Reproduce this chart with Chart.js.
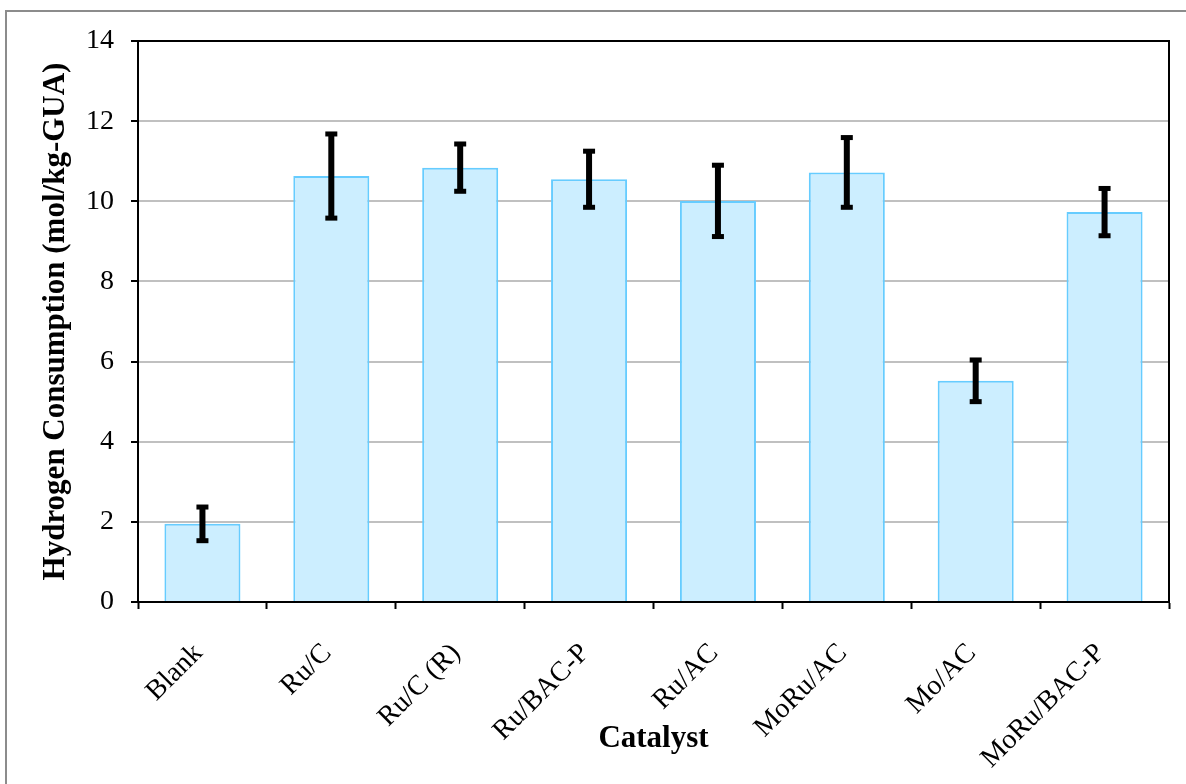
<!DOCTYPE html>
<html>
<head>
<meta charset="utf-8">
<script src="https://cdn.jsdelivr.net/npm/chart.js@4.4.1/dist/chart.umd.min.js"></script>
<style>
  html, body { margin: 0; padding: 0; background: #ffffff; }
  #wrap { width: 1186px; height: 784px; }
</style>
</head>
<body>
<div id="wrap"><canvas id="chart" width="1186" height="784"></canvas></div>
<script>
// Catalyst categories and measured hydrogen consumption (mol/kg-GUA)
const catalysts = ['Blank', 'Ru/C', 'Ru/C (R)', 'Ru/BAC-P', 'Ru/AC', 'MoRu/AC', 'Mo/AC', 'MoRu/BAC-P'];
const consumption = [1.95, 10.63, 10.84, 10.55, 10.01, 10.72, 5.52, 9.73];
// Symmetric error (± one standard deviation)
const errorMargin = [0.42, 1.05, 0.59, 0.70, 0.89, 0.87, 0.52, 0.59];
// Y-axis tick values
const yTicks = [0, 2, 4, 6, 8, 10, 12, 14];

const SERIF = "'Liberation Serif', 'Times New Roman', serif";

// Gray outer frame, black plot box, and error bars
const decor = {
  id: 'decor',
  beforeDraw(chart) {
    const ctx = chart.ctx;
    ctx.save();
    ctx.strokeStyle = '#8c8c8c';
    ctx.lineWidth = 2;
    ctx.beginPath();
    ctx.moveTo(6, 784);
    ctx.lineTo(6, 11);
    ctx.lineTo(1186, 11);
    ctx.stroke();
    ctx.restore();
  },
  afterDatasetsDraw(chart) {
    const ctx = chart.ctx;
    const y = chart.scales.y;
    const meta = chart.getDatasetMeta(0);
    ctx.save();
    ctx.fillStyle = '#000000';
    meta.data.forEach((bar, i) => {
      const v = consumption[i], e = errorMargin[i];
      const yTop = y.getPixelForValue(v + e);
      const yBot = y.getPixelForValue(v - e);
      const cx = bar.x;
      ctx.fillRect(cx - 3, yTop, 6, yBot - yTop);
      ctx.fillRect(cx - 6, yTop - 2.5, 12, 5);
      ctx.fillRect(cx - 6, yBot - 2.5, 12, 5);
    });
    const a = chart.chartArea;
    ctx.strokeStyle = '#000000';
    ctx.lineWidth = 2;
    ctx.beginPath();
    ctx.moveTo(a.left - 7, a.top);
    ctx.lineTo(a.right, a.top);
    ctx.lineTo(a.right, a.bottom);
    ctx.stroke();
    ctx.restore();
  }
};

new Chart(document.getElementById('chart'), {
  type: 'bar',
  data: {
    labels: catalysts,
    datasets: [{
      data: consumption,
      backgroundColor: '#cceeff',
      borderColor: '#66ccff',
      borderWidth: 2,
      categoryPercentage: 1.0,
      barPercentage: 0.59
    }]
  },
  options: {
    responsive: false,
    animation: false,
    devicePixelRatio: 1,
    layout: { padding: { left: 0, top: 41, right: 17, bottom: 0 } },
    plugins: {
      legend: { display: false },
      tooltip: { enabled: false }
    },
    scales: {
      x: {
        grid: {
          offset: true,
          drawOnChartArea: false,
          drawTicks: true,
          tickLength: 7,
          tickColor: '#000000',
          tickWidth: 2
        },
        border: { color: '#000000', width: 2 },
        ticks: {
          color: '#000000',
          font: { family: SERIF, size: 28 },
          minRotation: 45,
          maxRotation: 45,
          padding: 28,
          labelOffset: -4
        },
        title: {
          display: true,
          text: 'Catalyst',
          color: '#000000',
          font: { family: SERIF, size: 31, weight: 'bold' },
          padding: { top: 0, bottom: 26 }
        },
        afterFit(scale) { scale.height = 182; }
      },
      y: {
        min: 0,
        max: 14,
        afterBuildTicks(scale) { scale.ticks = yTicks.map(v => ({ value: v })); },
        grid: {
          color: '#c0c0c0',
          lineWidth: 2,
          drawTicks: true,
          tickLength: 7,
          tickColor: '#000000',
          tickWidth: 2
        },
        border: { color: '#000000', width: 2 },
        ticks: {
          color: '#000000',
          font: { family: SERIF, size: 28 },
          padding: 17
        },
        title: {
          display: true,
          text: 'Hydrogen Consumption (mol/kg-GUA)',
          color: '#000000',
          font: { family: SERIF, size: 31, weight: 'bold' },
          padding: { top: 37, bottom: 0 }
        },
        afterFit(scale) { scale.width = 138; }
      }
    }
  },
  plugins: [decor]
});
</script>
</body>
</html>
